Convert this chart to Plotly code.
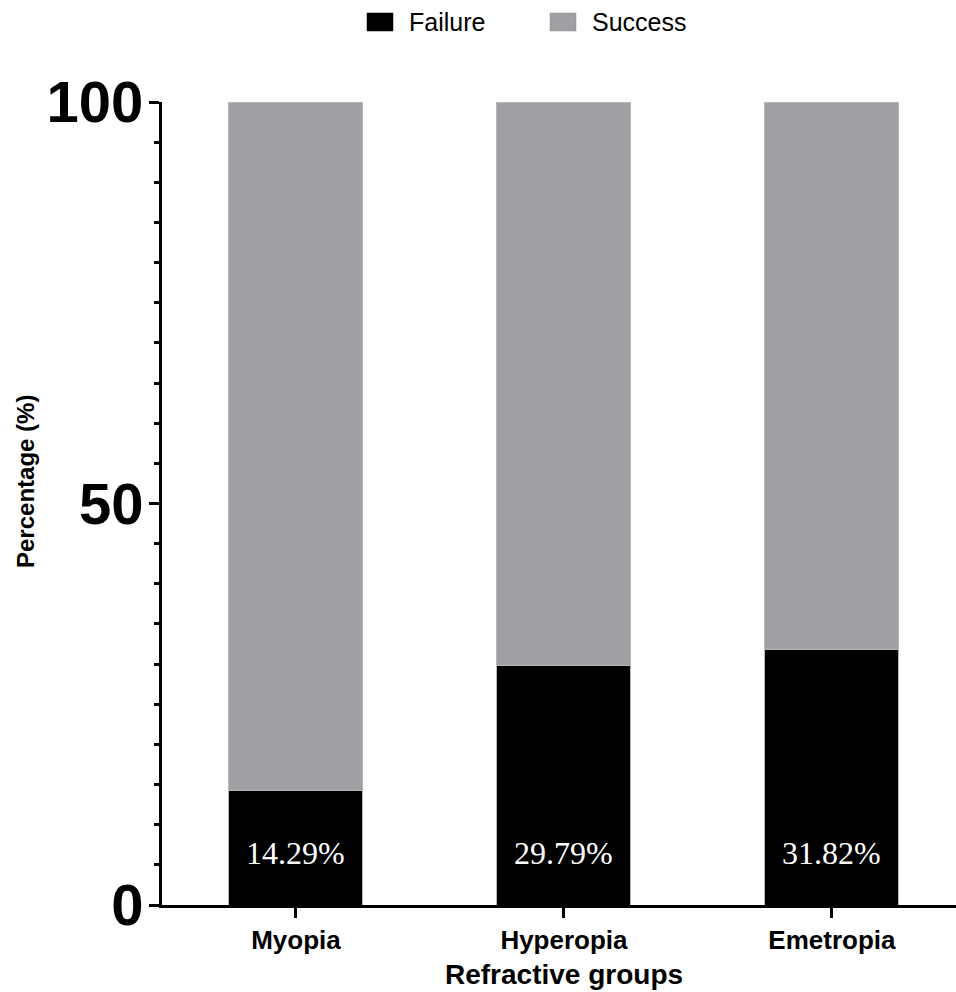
import plotly.graph_objects as go

categories = ["Myopia", "Hyperopia", "Emetropia"]
failure = [14.29, 29.79, 31.82]
success = [100 - v for v in failure]
series_names = ["Failure", "Success"]
colors = ["#000000", "#A09FA4"]
y_ticks = [0, 50, 100]

W, H = 956, 992
L, T, R = 162, 102, 0
B = H - 905
pw, ph = W - L - R, H - T - B

def px(x):
    return (x - L) / pw

def py(y):
    return (H - B - y) / ph

fig = go.Figure()
fig.add_trace(go.Bar(x=categories, y=failure, name=series_names[0], width=0.5,
                     marker=dict(color=colors[0], line=dict(color="#b8b8b8", width=1)),
                     showlegend=False))
fig.add_trace(go.Bar(x=categories, y=success, name=series_names[1], width=0.5,
                     marker=dict(color=colors[1], line=dict(color="#b8b8b8", width=1)),
                     showlegend=False))

annotations = []
for c, v in zip(categories, failure):
    annotations.append(dict(x=c, y=6.5, xref="x", yref="y", text=f"{v:.2f}%", showarrow=False,
                            xanchor="center", yanchor="middle",
                            font=dict(family="Liberation Serif, Times New Roman, serif", size=32, color="white")))

annotations.append(dict(x=px(25), y=py(482), xref="paper", yref="paper", text="Percentage (%)",
                        textangle=-90, showarrow=False, xanchor="center", yanchor="middle",
                        font=dict(family="Liberation Sans, Arial", size=24, color="black", weight="bold")))
annotations.append(dict(x=1, y=py(975), xref="x", yref="paper", text="Refractive groups", showarrow=False,
                        xanchor="center", yanchor="middle",
                        font=dict(family="Liberation Sans, Arial", size=28, color="black", weight="bold")))

shapes = []
legend_sw = [(367, 393), (550, 576)]
legend_tx = [407, 590]
for name, col, (x0, x1), tx in zip(series_names, colors, legend_sw, legend_tx):
    shapes.append(dict(type="rect", xref="paper", yref="paper", x0=px(x0), x1=px(x1), y0=py(31), y1=py(13),
                       fillcolor=col, line=dict(color="#888888" if col != "#000000" else "#000000", width=0.5)))
    annotations.append(dict(x=px(tx), y=py(22), xref="paper", yref="paper", text=name, showarrow=False,
                            xanchor="left", yanchor="middle",
                            font=dict(family="Liberation Sans, Arial", size=25, color="black")))

fig.update_layout(
    barmode="stack",
    width=W, height=H,
    margin=dict(l=L, r=R, t=T, b=B, pad=0),
    plot_bgcolor="white", paper_bgcolor="white",
    annotations=annotations, shapes=shapes,
    xaxis=dict(range=[-0.5, 2.463], showline=True, linecolor="black", linewidth=3,
               ticks="outside", ticklen=10, tickwidth=3, tickcolor="black",
               showgrid=False, zeroline=False,
               tickfont=dict(family="Liberation Sans, Arial", size=26, color="black", weight="bold")),
    yaxis=dict(range=[0, 100], showline=True, linecolor="black", linewidth=3,
               tickvals=y_ticks, ticks="outside", ticklen=10, tickwidth=3, tickcolor="black",
               showgrid=False, zeroline=False, ticklabelstandoff=-6,
               minor=dict(dtick=5, ticks="outside", ticklen=5, tickwidth=3, tickcolor="black", showgrid=False),
               tickfont=dict(family="Liberation Sans, Arial", size=58, color="black", weight="bold")),
)

fig.write_html("out.html", config={"displayModeBar": False},
               post_script="document.body.style.margin='0';document.documentElement.style.overflow='hidden';document.body.style.overflow='hidden';")
